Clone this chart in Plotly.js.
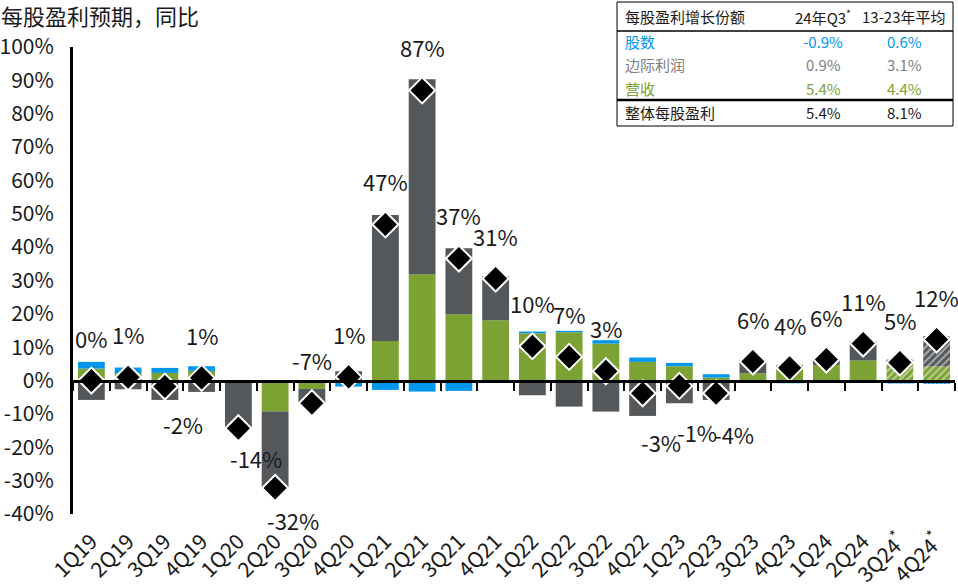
<!DOCTYPE html>
<html>
<head>
<meta charset="utf-8">
<script src="https://cdn.plot.ly/plotly-3.0.1.min.js"></script>
<style>
  html, body { margin: 0; padding: 0; background: #fff; }
  #chart { width: 958px; height: 588px; }
</style>
</head>
<body>
<div id="chart"></div>
<script>
// ---------------- DATA ----------------
const quarters = ['1Q19','2Q19','3Q19','4Q19','1Q20','2Q20','3Q20','4Q20',
                  '1Q21','2Q21','3Q21','4Q21','1Q22','2Q22','3Q22','4Q22',
                  '1Q23','2Q23','3Q23','4Q23','1Q24','2Q24','3Q24*','4Q24*'];
// contribution to EPS growth, % y/y
const revenue = [3.6, 2.2, 2.3, 2.9, 0, -9.3, -2.5, 0,
                 11.9, 31.9, 19.9, 18.1, 14.2, 14.5, 11.1, 5.6,
                 4.3, 0.9, 2.2, 4.7, 4.7, 6.0, 5.4, 4.2];
const margins = [-5.8, -2.6, -5.8, -3.4, -14.3, -22.6, -4.3, 2.8,
                 37.7, 58.4, 19.8, 13.2, -4.4, -7.8, -9.3, -10.6,
                 -6.8, -5.8, 3.5, 0, 2.0, 5.7, 0.9, 9.1];
const shares = [2.0, 1.7, 1.5, 1.4, 0, 0, 0, -1.8,
                -2.8, -3.3, -3.1, -0.6, 0.5, 0.4, 1.0, 1.3,
                1.0, 1.0, 0, -0.8, -0.6, -0.6, -0.9, -1.0];
const epsTotal = [0, 1.0, -1.8, 0.8, -14.3, -32.2, -6.8, 1.1,
                  46.8, 87.0, 36.6, 30.6, 10.3, 7.1, 2.8, -3.8,
                  -1.6, -3.8, 5.7, 3.8, 6.3, 11.1, 5.4, 12.3];
const epsLabels = ['0%','1%','-2%','1%','-14%','-32%','-7%','1%',
                   '47%','87%','37%','31%','10%','7%','3%','-3%',
                   '-1%','-4%','6%','4%','6%','11%','5%','12%'];
const yTickVals = [-40,-30,-20,-10,0,10,20,30,40,50,60,70,80,90,100];

const tableHeader = ['每股盈利增长份额', '24年Q3*', '13-23年平均'];
const tableRows = ['股数', '边际利润', '营收', '整体每股盈利'];
const tableQ3 = ['-0.9%', '0.9%', '5.4%', '5.4%'];
const tableAvg = ['0.6%', '3.1%', '4.4%', '8.1%'];

// ---------------- STYLE ----------------
const FONT = '"Noto Sans CJK SC", "Noto Sans", sans-serif';
const GREEN = '#7BA232';
const GRAY = '#54585B';
const BLUE = '#0096EC';
const TXT = '#1a1a1a';
const estimated = quarters.map(q => q.indexOf('*') >= 0);
const sup = s => s.replace('*', '<sup>*</sup>');
const tickText = quarters.map(sup);
// label placement (pixels relative to the diamond)
const aboveShift = 43;
const belowShift = {'3Q19': -37, '1Q20': -30, '2Q20': -32, '4Q22': -49, '1Q23': -46, '2Q23': -41};
const forceAbove = {'3Q20': true};

const W = 958, H = 588;
const M = {l: 73, r: 3, t: 47, b: 74};
const PW = W - M.l - M.r, PH = H - M.t - M.b;
const px = x => (x - M.l) / PW;
const py = y => (H - M.b - y) / PH;

function hatch(flags, shape, size, solidity) {
  return {shape: flags.map(f => f ? shape : ''), fillmode: 'overlay',
          fgcolor: '#ffffff', size: size, solidity: solidity};
}

const barCommon = {type: 'bar', x: quarters, width: 0.73, hoverinfo: 'skip',
                   xaxis: 'x', yaxis: 'y'};
const traces = [
  Object.assign({}, barCommon, {name: '营收', y: revenue,
    marker: {color: GREEN, line: {width: 0}, pattern: hatch(estimated, '/', 5, 0.4)}}),
  Object.assign({}, barCommon, {name: '边际利润', y: margins,
    marker: {color: GRAY, line: {width: 0}, pattern: hatch(estimated, '/', 5, 0.4)}}),
  Object.assign({}, barCommon, {name: '股数', y: shares,
    marker: {color: BLUE, line: {width: 0}, pattern: hatch(estimated, '|', 4, 0.35)}}),
  {type: 'scatter', mode: 'markers', name: '整体每股盈利', x: quarters, y: epsTotal,
   xaxis: 'x2', yaxis: 'y', hoverinfo: 'skip',
   marker: {symbol: 'diamond', size: 20, color: '#000', line: {color: '#fff', width: 2}}}
];

const annotations = epsTotal.map((v, i) => {
  const q = quarters[i];
  const above = v >= 0 || forceAbove[q];
  return {x: q, y: v, xref: 'x', yref: 'y', text: epsLabels[i],
          showarrow: false, xanchor: 'center', yanchor: 'middle',
          xshift: above ? 0 : 18, yshift: above ? aboveShift : (belowShift[q] || -40),
          font: {family: FONT, size: 22, color: TXT}};
});

// table
const colX = [623, 823, 904];
const rowY = [42, 65, 88, 113];
const rowColor = [BLUE, '#808080', GREEN, TXT];
const tf = c => ({family: FONT, size: 15, color: c});
annotations.push({x: px(colX[0]), y: py(17), xref: 'paper', yref: 'paper', text: tableHeader[0],
  showarrow: false, xanchor: 'left', yanchor: 'middle', font: tf(TXT)});
annotations.push({x: px(colX[1]), y: py(17), xref: 'paper', yref: 'paper', text: sup(tableHeader[1]),
  showarrow: false, xanchor: 'center', yanchor: 'middle', font: tf(TXT)});
annotations.push({x: px(colX[2]), y: py(17), xref: 'paper', yref: 'paper', text: tableHeader[2],
  showarrow: false, xanchor: 'center', yanchor: 'middle', font: tf(TXT)});
tableRows.forEach((r, i) => {
  annotations.push({x: px(colX[0]), y: py(rowY[i]), xref: 'paper', yref: 'paper', text: r,
    showarrow: false, xanchor: 'left', yanchor: 'middle', font: tf(rowColor[i])});
  annotations.push({x: px(colX[1]), y: py(rowY[i]), xref: 'paper', yref: 'paper', text: tableQ3[i],
    showarrow: false, xanchor: 'center', yanchor: 'middle', font: tf(rowColor[i])});
  annotations.push({x: px(colX[2]), y: py(rowY[i]), xref: 'paper', yref: 'paper', text: tableAvg[i],
    showarrow: false, xanchor: 'center', yanchor: 'middle', font: tf(rowColor[i])});
});

const shapes = [
  {type: 'rect', xref: 'paper', yref: 'paper', x0: px(617), x1: px(953), y0: py(126), y1: py(2),
   line: {color: '#000', width: 1}, fillcolor: 'rgba(255,255,255,1)', layer: 'below'},
  {type: 'line', xref: 'paper', yref: 'paper', x0: px(617), x1: px(953), y0: py(31), y1: py(31),
   line: {color: '#000', width: 1.5}},
  {type: 'line', xref: 'paper', yref: 'paper', x0: px(617), x1: px(953), y0: py(100), y1: py(100),
   line: {color: '#000', width: 2.5}}
];

const layout = {
  width: W, height: H,
  margin: M,
  paper_bgcolor: '#fff', plot_bgcolor: 'rgba(0,0,0,0)',
  barmode: 'relative',
  showlegend: false,
  font: {family: FONT, color: TXT},
  title: {text: '每股盈利预期，同比', x: 0.001, xref: 'container', xanchor: 'left',
          y: 1 - 17 / H, yref: 'container', yanchor: 'middle',
          font: {family: FONT, size: 22, color: TXT}},
  xaxis: {type: 'category', categoryorder: 'array', categoryarray: quarters,
          range: [-0.5, quarters.length - 0.5], tickvals: quarters, ticktext: tickText,
          tickangle: -45, ticks: '', showline: false, showgrid: false, zeroline: false,
          ticklabelstandoff: 10, tickfont: {family: FONT, size: 21, color: TXT}},
  xaxis2: {type: 'category', categoryorder: 'array', categoryarray: quarters,
           range: [-0.5, quarters.length - 0.5], overlaying: 'x', anchor: 'free',
           position: 40 / 140, showticklabels: false, showgrid: false, zeroline: false,
           showline: true, linecolor: '#000', linewidth: 3,
           ticks: 'outside', tickson: 'boundaries', ticklen: 8, tickwidth: 2, tickcolor: '#000'},
  yaxis: {range: [-40, 100], tickvals: yTickVals, ticktext: yTickVals.map(v => v + '%'),
          showline: true, linecolor: '#000', linewidth: 3, ticks: '', showgrid: false,
          zeroline: false, ticklabelstandoff: 12,
          tickfont: {family: FONT, size: 21, color: TXT}},
  annotations: annotations,
  shapes: shapes
};

Plotly.newPlot('chart', traces, layout, {staticPlot: true, displayModeBar: false});
</script>
</body>
</html>
